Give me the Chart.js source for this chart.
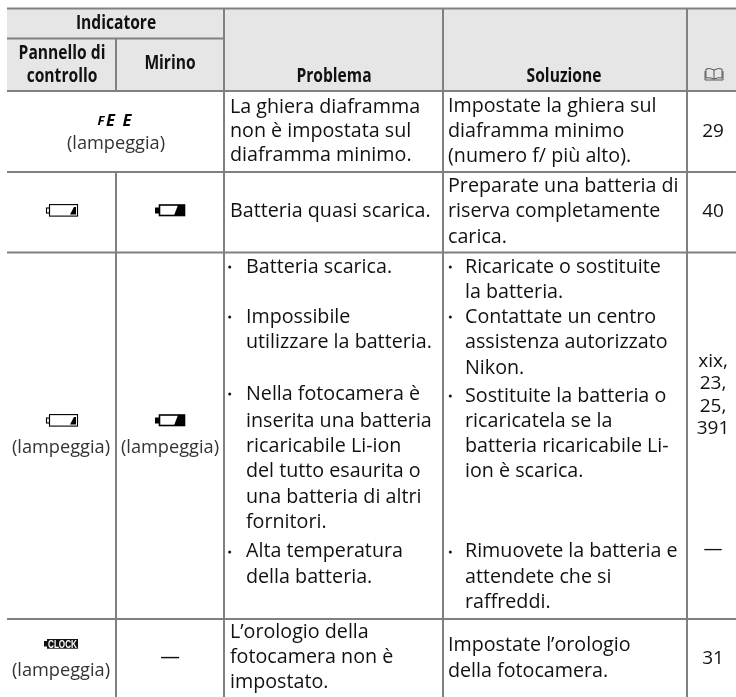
<!DOCTYPE html>
<html>
<head>
<meta charset="utf-8">
<script src="https://cdn.jsdelivr.net/npm/chart.js@4"></script>
<style>
html, body { margin: 0; padding: 0; background: #fff; }
canvas { display: block; }
</style>
</head>
<body>
<canvas id="chart" width="736" height="697"></canvas>
<script>
// Table text
var headerIndicator = "Indicatore"
var headerPanel = ["Pannello di", "controllo"]
var headerFinder = "Mirino"
var headerProblem = "Problema"
var headerSolution = "Soluzione"
var blinking = "(lampeggia)"

var problemRow1 = ["La ghiera diaframma", "non è impostata sul", "diaframma minimo."]
var problemRow2 = ["Batteria quasi scarica."]
var problemRow3 = ["Batteria scarica.", "Impossibile", "utilizzare la batteria.", "Nella fotocamera è", "inserita una batteria", "ricaricabile Li-ion", "del tutto esaurita o", "una batteria di altri", "fornitori.", "Alta temperatura", "della batteria."]
var problemRow4 = ["L’orologio della", "fotocamera non è", "impostato."]

var solutionRow1 = ["Impostate la ghiera sul", "diaframma minimo", "(numero f/ più alto)."]
var solutionRow2 = ["Preparate una batteria di", "riserva completamente", "carica."]
var solutionRow3 = ["Ricaricate o sostituite", "la batteria.", "Contattate un centro", "assistenza autorizzato", "Nikon.", "Sostituite la batteria o", "ricaricatela se la", "batteria ricaricabile Li-", "ion è scarica.", "Rimuovete la batteria e", "attendete che si", "raffreddi."]
var solutionRow4 = ["Impostate l’orologio", "della fotocamera."]

var pageRows = ["29", "40", "xix,", "23,", "25,", "391", "—", "31"]

// Table grid, in the units of the two axes
var columnEdges = [7, 116, 224, 443, 687, 736]
var rowEdges = [8.5, 38.5, 91, 172, 252.5, 619, 697]

// Baseline of every text line
var problemRow1Y = [113, 137, 161]
var problemRow2Y = [216.5]
var problemRow3Y = [272.7, 322.7, 348, 399.5, 426.7, 451.7, 477, 502.7, 527.7, 557.3, 583.3]
var problemRow4Y = [638, 663, 688]
var solutionRow1Y = [112, 137, 161.7]
var solutionRow2Y = [191.7, 216.7, 242.7]
var solutionRow3Y = [272.7, 298, 322.7, 348, 374, 401.7, 426.7, 451.7, 477.3, 557.3, 583.3, 608.3]
var solutionRow4Y = [650.7, 676.7]
var pageRowsY = [136.7, 216.7, 366.7, 388.5, 411.7, 434, 555, 664]

var lineColor = '#808080'
var headerColor = '#e6e6e6'
var textFont = '"Open Sans"'

function segment(x1, y1, x2, y2) {
    return {
        type: 'line',
        data: [{ x: x1, y: y1 }, { x: x2, y: y2 }],
        borderColor: lineColor,
        borderWidth: 2,
        pointRadius: 0,
        fill: false,
        order: 1
    }
}

var c = columnEdges, r = rowEdges
var datasets = [
    // Header background, drawn first so the grid stays on top
    { type: 'line', data: [{ x: c[0], y: r[0] }, { x: c[5], y: r[0] }], borderWidth: 0, pointRadius: 0, backgroundColor: headerColor, fill: { value: r[2] }, order: 2 },
    segment(c[0], r[0], c[5], r[0]),
    segment(c[0], r[1], c[2], r[1]),
    segment(c[0], r[2], c[5], r[2]),
    segment(c[0], r[3], c[5], r[3]),
    segment(c[0], r[4], c[5], r[4]),
    segment(c[0], r[5], c[5], r[5]),
    segment(c[1], r[1], c[1], r[2]),
    segment(c[1], r[3], c[1], r[6]),
    segment(c[2], r[0], c[2], r[6]),
    segment(c[3], r[0], c[3], r[6]),
    segment(c[4], r[0], c[4], r[6])
]

function textBlock(chart, lines, ys, x, options) {
    var ctx = chart.ctx, sx = chart.scales.x, sy = chart.scales.y
    var o = options || {}
    ctx.save()
    ctx.fillStyle = o.color || '#111'
    ctx.font = (o.font || '19.7px') + ' ' + textFont
    ctx.textAlign = o.align || 'left'
    ctx.textBaseline = 'alphabetic'
    lines.forEach((line, i) => {
        var px = sx.getPixelForValue(x), py = sy.getPixelForValue(ys[i])
        if (o.squeeze) {
            ctx.save()
            ctx.translate(px, py)
            ctx.scale(o.squeeze, 1)
            ctx.fillText(line, 0, 0)
            ctx.restore()
        } else {
            ctx.fillText(line, px, py)
        }
    })
    ctx.restore()
}

function bullets(chart, x, ys) {
    var ctx = chart.ctx
    ctx.save()
    ctx.fillStyle = '#111'
    ys.forEach((y) => {
        ctx.beginPath()
        ctx.arc(chart.scales.x.getPixelForValue(x), chart.scales.y.getPixelForValue(y), 1.5, 0, Math.PI * 2)
        ctx.fill()
    })
    ctx.restore()
}

function battery(chart, x, y, solid) {
    var ctx = chart.ctx
    var px = chart.scales.x.getPixelForValue(x), py = chart.scales.y.getPixelForValue(y)
    ctx.save()
    ctx.translate(px, py)
    ctx.fillStyle = '#000'
    ctx.strokeStyle = '#000'
    ctx.lineWidth = solid ? 1.6 : 1.1
    if (solid) {
        ctx.fillRect(0, 3.5, 4, 6)
        ctx.strokeRect(4.5, 1, 25, 10.5)
        ctx.beginPath()
        ctx.moveTo(19, 11.5); ctx.lineTo(23, 1); ctx.lineTo(30, 1); ctx.lineTo(30, 11.5)
        ctx.closePath()
        ctx.fill()
    } else {
        ctx.strokeRect(0.5, 4, 3, 5)
        ctx.strokeRect(3.5, 0.6, 28, 11.5)
        ctx.beginPath()
        ctx.moveTo(24, 10.5); ctx.lineTo(28, 3); ctx.lineTo(30, 3); ctx.lineTo(30, 10.5)
        ctx.closePath()
        ctx.fill()
    }
    ctx.restore()
}

function bookIcon(chart, x, y) {
    var ctx = chart.ctx
    ctx.save()
    ctx.translate(chart.scales.x.getPixelForValue(x), chart.scales.y.getPixelForValue(y))
    ctx.strokeStyle = '#333'
    ctx.lineWidth = 0.8
    ctx.beginPath()
    ctx.moveTo(9.5, 2); ctx.quadraticCurveTo(5, -0.5, 1.5, 1); ctx.lineTo(1.5, 10); ctx.quadraticCurveTo(5, 9, 9.5, 11)
    ctx.quadraticCurveTo(14, 9, 17.5, 10); ctx.lineTo(17.5, 1); ctx.quadraticCurveTo(14, -0.5, 9.5, 2)
    ctx.lineTo(9.5, 11)
    ctx.moveTo(0.5, 3); ctx.lineTo(0.5, 12); ctx.lineTo(18.5, 12); ctx.lineTo(18.5, 3)
    ctx.stroke()
    ctx.restore()
}

function clockIcon(chart, x, y) {
    var ctx = chart.ctx
    ctx.save()
    ctx.translate(chart.scales.x.getPixelForValue(x), chart.scales.y.getPixelForValue(y))
    ctx.fillStyle = '#111'
    ctx.fillRect(0, 2, 3, 5.5)
    ctx.fillRect(3, 0, 31, 9.7)
    ctx.fillStyle = '#fff'
    ctx.font = 'bold 10px "Liberation Sans"'
    ctx.textBaseline = 'alphabetic'
    ctx.fillText('CLOCK', 4, 8.6, 29)
    ctx.restore()
}

var tableText = {
    id: 'tableText',
    afterDatasetsDraw(chart) {
        var bold = { font: 'bold 20px', align: 'center', squeeze: 0.78 }
        textBlock(chart, [headerIndicator], [29.3], 116, bold)
        textBlock(chart, headerPanel, [59.3, 81.7], 62, bold)
        textBlock(chart, [headerFinder], [69.3], 170, bold)
        textBlock(chart, [headerProblem], [81.7], 334, bold)
        textBlock(chart, [headerSolution], [81.7], 564, bold)
        bookIcon(chart, 704.5, 68)

        textBlock(chart, problemRow1, problemRow1Y, 230)
        textBlock(chart, problemRow2, problemRow2Y, 230)
        textBlock(chart, problemRow3, problemRow3Y, 246)
        textBlock(chart, problemRow4, problemRow4Y, 230)
        bullets(chart, 229.7, [267, 317, 394, 552])

        textBlock(chart, solutionRow1, solutionRow1Y, 448)
        textBlock(chart, solutionRow2, solutionRow2Y, 448)
        textBlock(chart, solutionRow3, solutionRow3Y, 465)
        textBlock(chart, solutionRow4, solutionRow4Y, 448)
        bullets(chart, 450.3, [267, 317, 396, 552])

        pageRows.forEach((page, i) => {
            textBlock(chart, [page], [pageRowsY[i]], 713, { font: '19px', align: 'center' })
        })

        var grey = { font: '18.2px', align: 'center', color: '#333' }
        textBlock(chart, ['F'], [125], 97.5, { font: 'italic bold 13px', color: '#000' })
        textBlock(chart, ['E'], [125.5], 106, { font: 'italic bold 16.5px', color: '#000' })
        textBlock(chart, ['E'], [125.5], 122.5, { font: 'italic bold 16.5px', color: '#000' })
        textBlock(chart, [blinking], [148.5], 116, grey)
        battery(chart, 46, 204, false)
        battery(chart, 155, 204, true)
        battery(chart, 46, 414, false)
        battery(chart, 155, 414, true)
        textBlock(chart, [blinking], [453], 61, grey)
        textBlock(chart, [blinking], [453], 170, grey)
        clockIcon(chart, 44, 639)
        textBlock(chart, [blinking], [676], 61, grey)
        textBlock(chart, ['—'], [663], 170, { align: 'center' })
    }
}

var chart = new Chart(document.getElementById('chart'), {
    type: 'scatter',
    data: { datasets: datasets },
    options: {
        responsive: false,
        animation: false,
        events: [],
        layout: { padding: 0 },
        plugins: { legend: { display: false }, tooltip: { enabled: false } },
        scales: {
            x: { type: 'linear', display: false, min: 0, max: 736 },
            y: { type: 'linear', display: false, min: 0, max: 697, reverse: true }
        }
    },
    plugins: [tableText]
})
</script>
</body>
</html>
